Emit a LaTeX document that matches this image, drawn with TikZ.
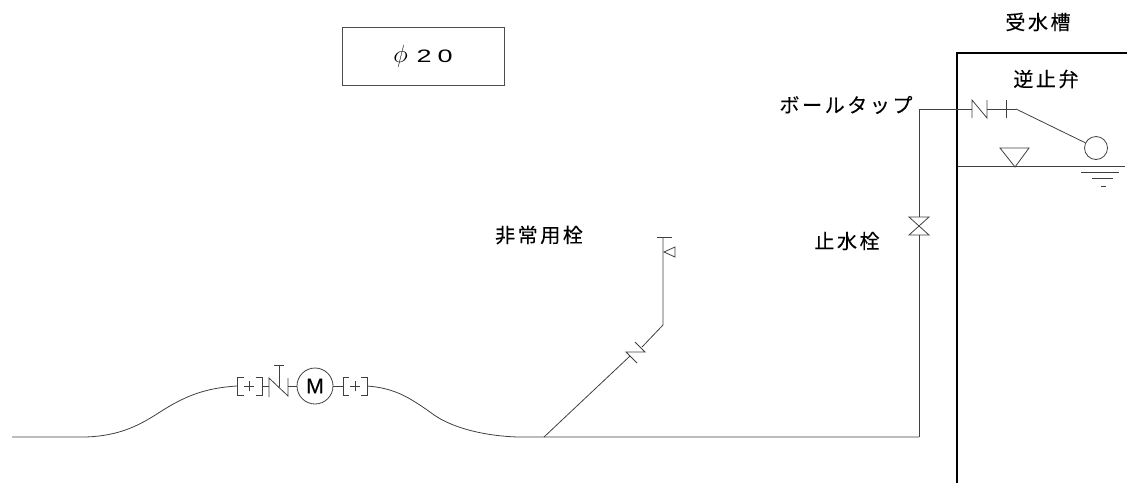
\documentclass[tikz,border=0pt]{standalone}
\usepackage{fontspec}
\usepackage{amsmath,amsfonts}
\newfontfamily\jpwide[LetterSpace=13,FakeBold=0.15]{Noto Sans CJK JP}
\newfontfamily\digitfont[FakeStretch=1.5]{Liberation Sans}
\newfontfamily\meterfont[FakeBold=0.3]{Liberation Sans}
\usetikzlibrary{arrows,arrows.meta}

\begin{document}
\begin{tikzpicture}[
  x=1pt,y=-1pt,
  pipe/.style={draw=black!75,line width=0.8pt},
  wall/.style={draw=black,line width=1.6pt},
  jlabel/.style={inner sep=0pt,font=\fontsize{20}{22}\selectfont\jpwide},
  snode/.style={draw=black!70,line width=0.8pt,rectangle,minimum width=162pt,minimum height=58pt,inner sep=0pt},
  mnode/.style={draw=black!75,line width=0.8pt,circle,minimum size=36pt,inner sep=0pt,font=\fontsize{21}{22}\selectfont\meterfont}
]
  \useasboundingbox (0,0) rectangle (1127,483);

  % labels
  \node[snode] (size) at (423,56) {\fontsize{26}{28}\selectfont$\phi$\hspace{9pt}\fontsize{18}{22}\selectfont\digitfont 2\hspace{6pt}0\hspace{20pt}};
  \node[jlabel] (tankname) at (1038,22) {受水槽};
  \node[jlabel] (checkname) at (1046,79) {逆止弁};
  \node[jlabel] (ballname) at (846,105) {ボールタップ};
  \node[jlabel] (emergname) at (539,235) {非常用栓};
  \node[jlabel] (stopname) at (847,241) {止水栓};

  % tank
  \coordinate (t1) at (957,483);
  \coordinate (t2) at (957,53);
  \coordinate (t3) at (1127,53);
  \draw[wall] (t1) -- (t2) -- (t3);

  % water level
  \coordinate (w1) at (958,166);
  \coordinate (w2) at (1125,166);
  \draw[pipe] (w1) -- (w2);
  \draw[pipe] (1000,148) -- (1029,148) -- (1015,167) -- cycle;
  \draw[pipe] (1081,172) -- (1119,172);
  \draw[pipe] (1092,178) -- (1113,178);
  \draw[pipe] (1101,186) -- (1106,186);

  % ball tap
  \node[pipe,circle,minimum size=23pt,inner sep=0pt] (ball) at (1096,148) {};
  \coordinate (arm) at (1016,109);
  \coordinate (corner) at (919,109);
  \coordinate (n1) at (972,109);
  \coordinate (n2) at (987,109);
  \draw[pipe] (arm) -- (ball);
  \draw[pipe] (n2) -- (arm);
  \draw[pipe] (corner) -- (n1);
  \draw[pipe] (972,118) -- (972,100) -- (987,118) -- (987,100);
  \draw[pipe] (1006,100) -- (1006,118);

  % stop valve
  \coordinate (v1) at (919,217);
  \coordinate (v2) at (919,235);
  \coordinate (tee) at (919,437);
  \draw[pipe] (corner) -- (v1);
  \draw[pipe] (v2) -- (tee);
  \draw[pipe] (909,217) -- (929,217) -- (909,235) -- (929,235) -- cycle;

  % emergency hydrant
  \coordinate (h0) at (544,437);
  \coordinate (h1) at (630,356);
  \coordinate (h2) at (642,347);
  \coordinate (h3) at (663,325);
  \coordinate (h4) at (663,237);
  \draw[pipe] (h0) -- (h1);
  \draw[pipe] (h2) -- (h3) -- (h4);
  \draw[pipe] (635,342) -- (645,352) -- (626,352) -- (637,363);
  \draw[pipe] (657,237) -- (672,237);
  \draw[pipe] (664,252) -- (675,247) -- (675,257) -- cycle;

  % meter
  \node[mnode] (meter) at (315,386) {M};
  \coordinate (b1) at (237,386);
  \coordinate (b2) at (262,386);
  \coordinate (c1) at (269,386);
  \coordinate (c2) at (288,386);
  \coordinate (b3) at (343,386);
  \coordinate (b4) at (367,386);
  \draw[pipe] (b2) -- (c1);
  \draw[pipe] (c2) -- (meter);
  \draw[pipe] (meter) -- (b3);
  \draw[pipe] (269,397) -- (269,378) -- (288,396) -- (288,378);
  \draw[pipe] (279,387) -- (279,365);
  \draw[pipe] (274,365) -- (284,365);
  \draw[pipe] (244,377) -- (237,377) -- (237,395) -- (244,395);
  \draw[pipe] (256,377) -- (262,377) -- (262,395) -- (256,395);
  \draw[pipe] (244,386) -- (254,386);
  \draw[pipe] (249,381) -- (249,391);
  \draw[pipe] (349,377) -- (343,377) -- (343,395) -- (349,395);
  \draw[pipe] (361,377) -- (367,377) -- (367,395) -- (361,395);
  \draw[pipe] (350,386) -- (360,386);
  \draw[pipe] (355,381) -- (355,391);

  % main pipe
  \coordinate (start) at (12,437);
  \draw[pipe] (start) -- (85,437)
    .. controls (120,436) and (140,425) .. (160,412)
    .. controls (185,396) and (205,388) .. (b1);
  \draw[pipe] (b4)
    .. controls (395,388) and (410,398) .. (430,412)
    .. controls (450,428) and (485,436) .. (518,437) -- (tee);
\end{tikzpicture}
\end{document}
